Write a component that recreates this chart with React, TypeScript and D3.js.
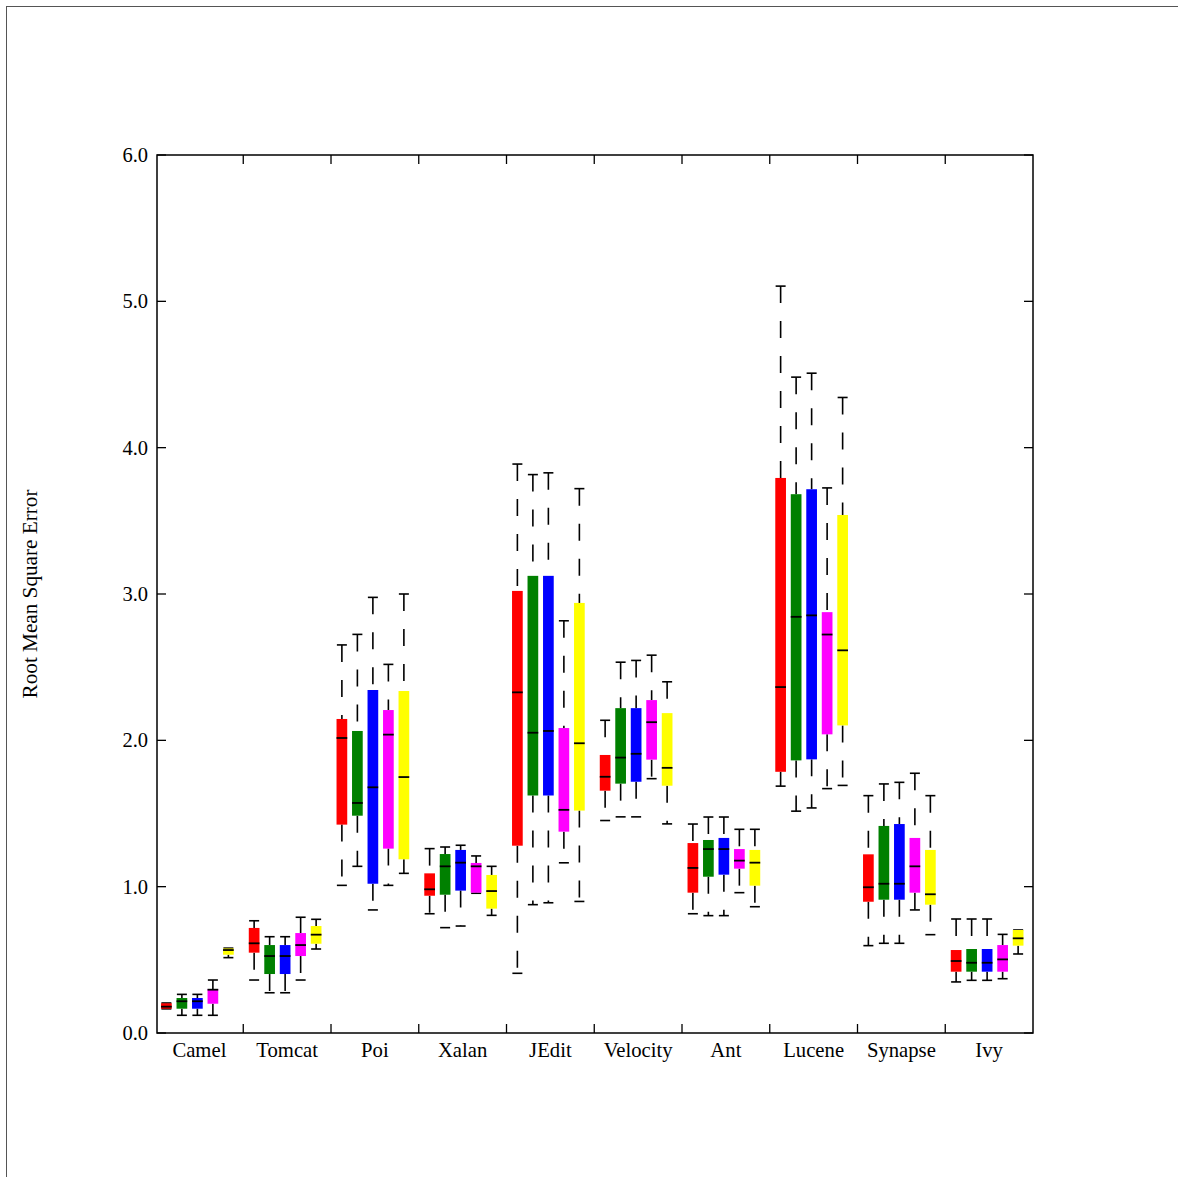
import React from "react";
import * as d3 from "d3";

// Categories (project names)
const categories = ["Camel", "Tomcat", "Poi", "Xalan", "JEdit", "Velocity", "Ant", "Lucene", "Synapse", "Ivy"];

// Each entry: [lowerWhisker, q1, median, q3, upperWhisker] per category
const redSeries: number[][] = [
  [0.165, 0.166, 0.18, 0.203, 0.205],
  [0.362, 0.549, 0.613, 0.718, 0.767],
  [1.009, 1.424, 2.016, 2.146, 2.652],
  [0.815, 0.938, 0.982, 1.091, 1.26],
  [0.408, 1.28, 2.328, 3.021, 3.888],
  [1.452, 1.656, 1.751, 1.9, 2.137],
  [0.815, 0.959, 1.128, 1.298, 1.428],
  [1.687, 1.785, 2.364, 3.793, 5.104],
  [0.597, 0.897, 0.996, 1.221, 1.622],
  [0.349, 0.419, 0.492, 0.567, 0.779],
];
const greenSeries: number[][] = [
  [0.121, 0.166, 0.217, 0.239, 0.264],
  [0.275, 0.403, 0.526, 0.601, 0.658],
  [1.139, 1.485, 1.572, 2.064, 2.724],
  [0.72, 0.945, 1.139, 1.223, 1.271],
  [0.877, 1.623, 2.052, 3.124, 3.816],
  [1.477, 1.704, 1.882, 2.22, 2.534],
  [0.802, 1.068, 1.257, 1.319, 1.476],
  [1.516, 1.863, 2.844, 3.682, 4.482],
  [0.613, 0.911, 1.02, 1.415, 1.702],
  [0.36, 0.419, 0.48, 0.574, 0.779],
];
const blueSeries: number[][] = [
  [0.121, 0.166, 0.217, 0.239, 0.264],
  [0.275, 0.403, 0.526, 0.601, 0.658],
  [0.841, 1.02, 1.679, 2.344, 2.977],
  [0.731, 0.973, 1.164, 1.251, 1.283],
  [0.89, 1.623, 2.064, 3.124, 3.828],
  [1.477, 1.717, 1.908, 2.22, 2.546],
  [0.802, 1.082, 1.257, 1.333, 1.476],
  [1.538, 1.87, 2.854, 3.716, 4.509],
  [0.613, 0.911, 1.02, 1.428, 1.713],
  [0.36, 0.419, 0.48, 0.574, 0.779],
];
const magentaSeries: number[][] = [
  [0.121, 0.2, 0.296, 0.3, 0.362],
  [0.362, 0.526, 0.601, 0.683, 0.791],
  [1.009, 1.26, 2.039, 2.207, 2.519],
  [0.955, 0.959, 1.139, 1.162, 1.21],
  [1.163, 1.376, 1.525, 2.084, 2.817],
  [1.738, 1.868, 2.124, 2.275, 2.582],
  [0.959, 1.123, 1.178, 1.257, 1.392],
  [1.67, 2.041, 2.723, 2.876, 3.725],
  [0.841, 0.959, 1.139, 1.333, 1.775],
  [0.371, 0.419, 0.503, 0.601, 0.674],
];
const yellowSeries: number[][] = [
  [0.515, 0.535, 0.567, 0.578, 0.58],
  [0.574, 0.61, 0.672, 0.731, 0.777],
  [1.091, 1.187, 1.749, 2.337, 3.0],
  [0.804, 0.85, 0.97, 1.08, 1.139],
  [0.899, 1.52, 1.98, 2.939, 3.72],
  [1.429, 1.69, 1.812, 2.186, 2.4],
  [0.863, 1.007, 1.164, 1.251, 1.392],
  [1.692, 2.102, 2.615, 3.54, 4.343],
  [0.672, 0.877, 0.948, 1.251, 1.622],
  [0.54, 0.597, 0.647, 0.704, 0.704],
];

const seriesList = [redSeries, greenSeries, blueSeries, magentaSeries, yellowSeries];
const seriesColors = ["#ff0000", "#008000", "#0000ff", "#ff00ff", "#ffff00"];

const yTicks = [0, 1, 2, 3, 4, 5, 6];
const yLabel = "Root Mean Square Error";

const W = 1178;
const H = 1177;
const left = 157, right = 1033, top = 155, bottom = 1033;
const font = "'Liberation Serif', 'Times New Roman', Times, serif";

export default function App() {
  const x = d3.scaleLinear().domain([0.017, 10]).range([left, right]);
  const y = d3.scaleLinear().domain([0, 6]).range([bottom, top]);
  const boxW = 10.7;
  const step = 15.5;
  const capW = 10;
  const tickLen = 9;
  const boundaries = d3.range(1, categories.length);

  const boxes: React.ReactNode[] = [];
  seriesList.forEach((ser, j) => {
    ser.forEach((s, i) => {
      const [lo, q1, med, q3, hi] = s;
      const cx = x(i + 0.5) - 2 + (j - 2) * step;
      const key = `${i}-${j}`;
      boxes.push(
        <g key={key}>
          {hi > q3 && (
            <line x1={cx} x2={cx} y1={y(hi)} y2={y(q3)} stroke="#000" strokeWidth={1.6} strokeDasharray="17,18" />
          )}
          {q1 > lo && (
            <line x1={cx} x2={cx} y1={y(q1)} y2={y(lo)} stroke="#000" strokeWidth={1.6} strokeDasharray="17,18" />
          )}
          <line x1={cx - capW / 2} x2={cx + capW / 2} y1={y(hi)} y2={y(hi)} stroke="#000" strokeWidth={1.6} />
          <line x1={cx - capW / 2} x2={cx + capW / 2} y1={y(lo)} y2={y(lo)} stroke="#000" strokeWidth={1.6} />
          <rect x={cx - boxW / 2} y={y(q3)} width={boxW} height={Math.max(1, y(q1) - y(q3))} fill={seriesColors[j]} />
          <line x1={cx - boxW / 2} x2={cx + boxW / 2} y1={y(med)} y2={y(med)} stroke="#000" strokeWidth={1.8} />
        </g>
      );
    });
  });

  return (
    <svg width={W} height={H} style={{ position: "absolute", left: 0, top: 0, display: "block", background: "#fff" }}>
      <rect x={6.5} y={6.5} width={W + 20} height={H + 20} fill="#fff" stroke="#555" strokeWidth={1} />
      {boxes}
      <rect x={left} y={top} width={right - left} height={bottom - top} fill="none" stroke="#000" strokeWidth={1.5} />
      {yTicks.map((t) => (
        <g key={"yt" + t}>
          <line x1={left} x2={left + tickLen} y1={y(t)} y2={y(t)} stroke="#000" strokeWidth={1.3} />
          <line x1={right} x2={right - tickLen} y1={y(t)} y2={y(t)} stroke="#000" strokeWidth={1.3} />
          <text x={left - 9} y={y(t)} textAnchor="end" dominantBaseline="central" fontFamily={font} fontSize={20.5} fill="#000">
            {t.toFixed(1)}
          </text>
        </g>
      ))}
      {boundaries.map((b) => (
        <g key={"xt" + b}>
          <line x1={x(b)} x2={x(b)} y1={bottom} y2={bottom - tickLen} stroke="#000" strokeWidth={1.3} />
          <line x1={x(b)} x2={x(b)} y1={top} y2={top + tickLen} stroke="#000" strokeWidth={1.3} />
        </g>
      ))}
      {categories.map((c, i) => (
        <text key={c} x={x(i + 0.5)} y={1057} textAnchor="middle" fontFamily={font} fontSize={20.7} fill="#000">
          {c}
        </text>
      ))}
      <text
        transform={`translate(30, 594) rotate(-90)`}
        textAnchor="middle"
        dominantBaseline="central"
        fontFamily={font}
        fontSize={21.2}
        fill="#000"
      >
        {yLabel}
      </text>
    </svg>
  );
}
